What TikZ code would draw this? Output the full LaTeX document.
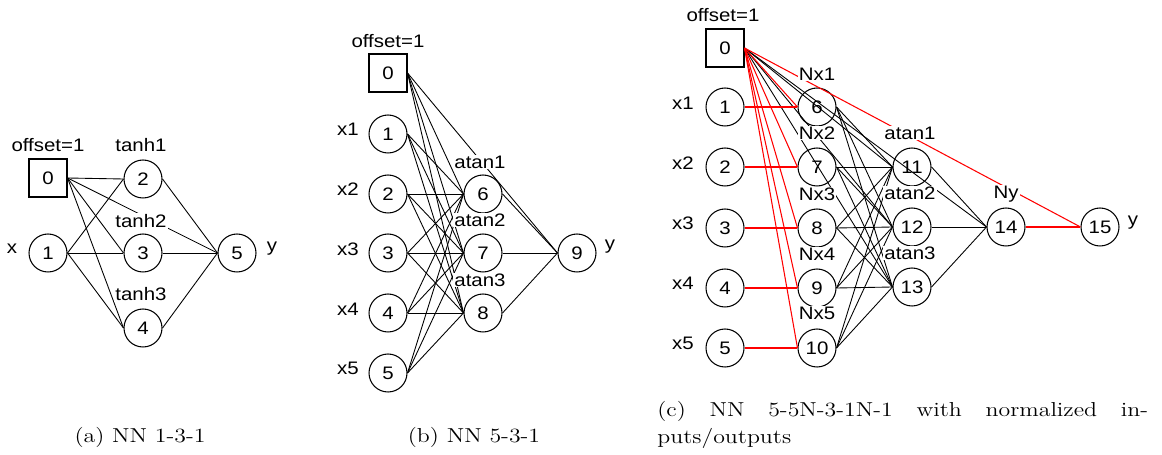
\documentclass[tikz,border=0pt]{standalone}
\usepackage{fontspec}
\usepackage{graphicx}
\newfontfamily\arialf{Liberation Sans}
\newcommand\hs[1]{\scalebox{1.13}[1]{#1}}
\newcommand\cs[1]{\scalebox{1.18}[1]{#1}}
\begin{document}
\begin{tikzpicture}[x=0.02cm,y=-0.02cm,
  neuron/.style={circle,draw,line width=0.6pt,minimum size=0.76cm,inner sep=0pt,font=\arialf\fontsize{10.3}{12}\selectfont},
  biasbox/.style={rectangle,draw,line width=0.6pt,minimum size=0.76cm,inner sep=0pt,font=\arialf\fontsize{10.3}{12}\selectfont},
  lbl/.style={font=\arialf\fontsize{10.3}{12}\selectfont,fill=white,inner sep=0.6pt},
  plainlbl/.style={font=\arialf\fontsize{10.3}{12}\selectfont,inner sep=0.6pt},
  conn/.style={line width=0.5pt,black},
  rconn/.style={line width=0.6pt,red},
  captext/.style={font=\fontsize{11.5}{15.3}\selectfont,inner sep=0pt}]
\useasboundingbox (0,0) rectangle (1162,455);

% ---------------- (a) ----------------
\node[biasbox] (a0) at (48,178) {\hs{0}};
\node[neuron] (a1) at (48,253) {\hs{1}};
\node[neuron] (a2) at (143,179) {\hs{2}};
\node[neuron] (a3) at (143,253) {\hs{3}};
\node[neuron] (a4) at (143,328) {\hs{4}};
\node[neuron] (a5) at (237,253) {\hs{5}};
\foreach \s in {0,1}
  \foreach \t in {2,3,4}
    \draw[conn] (a\s.east) -- (a\t.west);
\draw[conn] (a0.east) -- (a5.west);
\foreach \s in {2,3,4}
  \draw[conn] (a\s.east) -- (a5.west);
\node[lbl] (la0) at (48,145) {\hs{offset=1}};
\node[lbl] (la2) at (141,145) {\hs{tanh1}};
\node[lbl] (la3) at (141,221) {\hs{tanh2}};
\node[lbl] (la4) at (141,294) {\hs{tanh3}};
\node[plainlbl] (lax) at (12,249) {\hs{x}};
\node[plainlbl] (lay) at (272,249) {\hs{y}};

% ---------------- (b) ----------------
\node[biasbox] (b0) at (388,73) {\hs{0}};
\foreach \i/\yy in {1/134,2/194,3/253,4/313,5/373}
  \node[neuron] (b\i) at (388,\yy) {\hs{\i}};
\foreach \i/\yy in {6/194,7/253,8/313}
  \node[neuron] (b\i) at (483,\yy) {\hs{\i}};
\node[neuron] (b9) at (577,253) {\hs{9}};
\foreach \s in {0,...,5}
  \foreach \t in {6,7,8}
    \draw[conn] (b\s.east) -- (b\t.west);
\draw[conn] (b0.east) -- (b9.west);
\foreach \s in {6,7,8}
  \draw[conn] (b\s.east) -- (b9.west);
\node[lbl] (lb0) at (388,41) {\hs{offset=1}};
\foreach \i/\yy in {1/129,2/189,3/249,4/309,5/368}
  \node[plainlbl] (lbx\i) at (348,\yy) {\hs{x\i}};
\node[lbl] (lb6) at (480,162) {\hs{atan1}};
\node[lbl] (lb7) at (480,220) {\hs{atan2}};
\node[lbl] (lb8) at (480,280) {\hs{atan3}};
\node[plainlbl] (lby) at (610,247) {\hs{y}};

% ---------------- (c) ----------------
\node[biasbox] (c0) at (725,48) {\hs{0}};
\foreach \i/\yy in {1/107,2/167,3/228,4/288,5/348}
  \node[neuron] (c\i) at (725,\yy) {\hs{\i}};
\foreach \i/\yy in {6/107,7/167,8/228,9/288,10/348}
  \node[neuron] (c\i) at (817,\yy) {\hs{\i}};
\foreach \i/\yy in {11/167,12/227,13/287}
  \node[neuron] (c\i) at (912,\yy) {\hs{\i}};
\node[neuron] (c14) at (1006,227) {\hs{14}};
\node[neuron] (c15) at (1100,227) {\hs{15}};
% black connections
\foreach \t in {11,12,13,14}
  \draw[conn] (c0.east) -- (c\t.west);
\foreach \s in {6,...,10}
  \foreach \t in {11,12,13}
    \draw[conn] (c\s.east) -- (c\t.west);
\foreach \s in {11,12,13}
  \draw[conn] (c\s.east) -- (c14.west);
% red connections
\foreach \t in {6,...,10}
  \draw[rconn] (c0.east) -- (c\t.west);
\foreach \s/\t in {1/6,2/7,3/8,4/9,5/10}
  \draw[rconn] (c\s.east) -- (c\t.west);
\draw[rconn] (c0.east) -- (c15.west);
\draw[rconn] (c14.east) -- (c15.west);
% labels
\node[lbl] (lc0) at (723,15) {\hs{offset=1}};
\foreach \i/\yy in {1/103,2/163,3/223,4/283,5/343}
  \node[plainlbl] (lcx\i) at (683,\yy) {\hs{x\i}};
\foreach \i/\yy in {1/74,2/133,3/194,4/254,5/313}
  \node[lbl] (lcn\i) at (817,\yy) {\hs{Nx\i}};
\node[lbl] (lc11) at (910,133) {\hs{atan1}};
\node[lbl] (lc12) at (910,193) {\hs{atan2}};
\node[lbl] (lc13) at (910,253) {\hs{atan3}};
\node[lbl] (lc14) at (1006,194) {\hs{Ny}};
\node[plainlbl] (lcy) at (1133,223) {\hs{y}};

% ---------------- captions ----------------
\node[captext,anchor=base] (capa) at (140,442) {\cs{(a) NN 1-3-1}};
\node[captext,anchor=base] (capb) at (474,442) {\cs{(b) NN 5-3-1}};
\node[captext,anchor=north west] (capc) at (657,401) {\cs{\parbox[t]{8.32cm}{\fontsize{11.5}{15.3}\selectfont\noindent (c) NN 5-5N-3-1N-1 with normalized in-\linebreak puts/outputs}}};
\end{tikzpicture}
\end{document}
